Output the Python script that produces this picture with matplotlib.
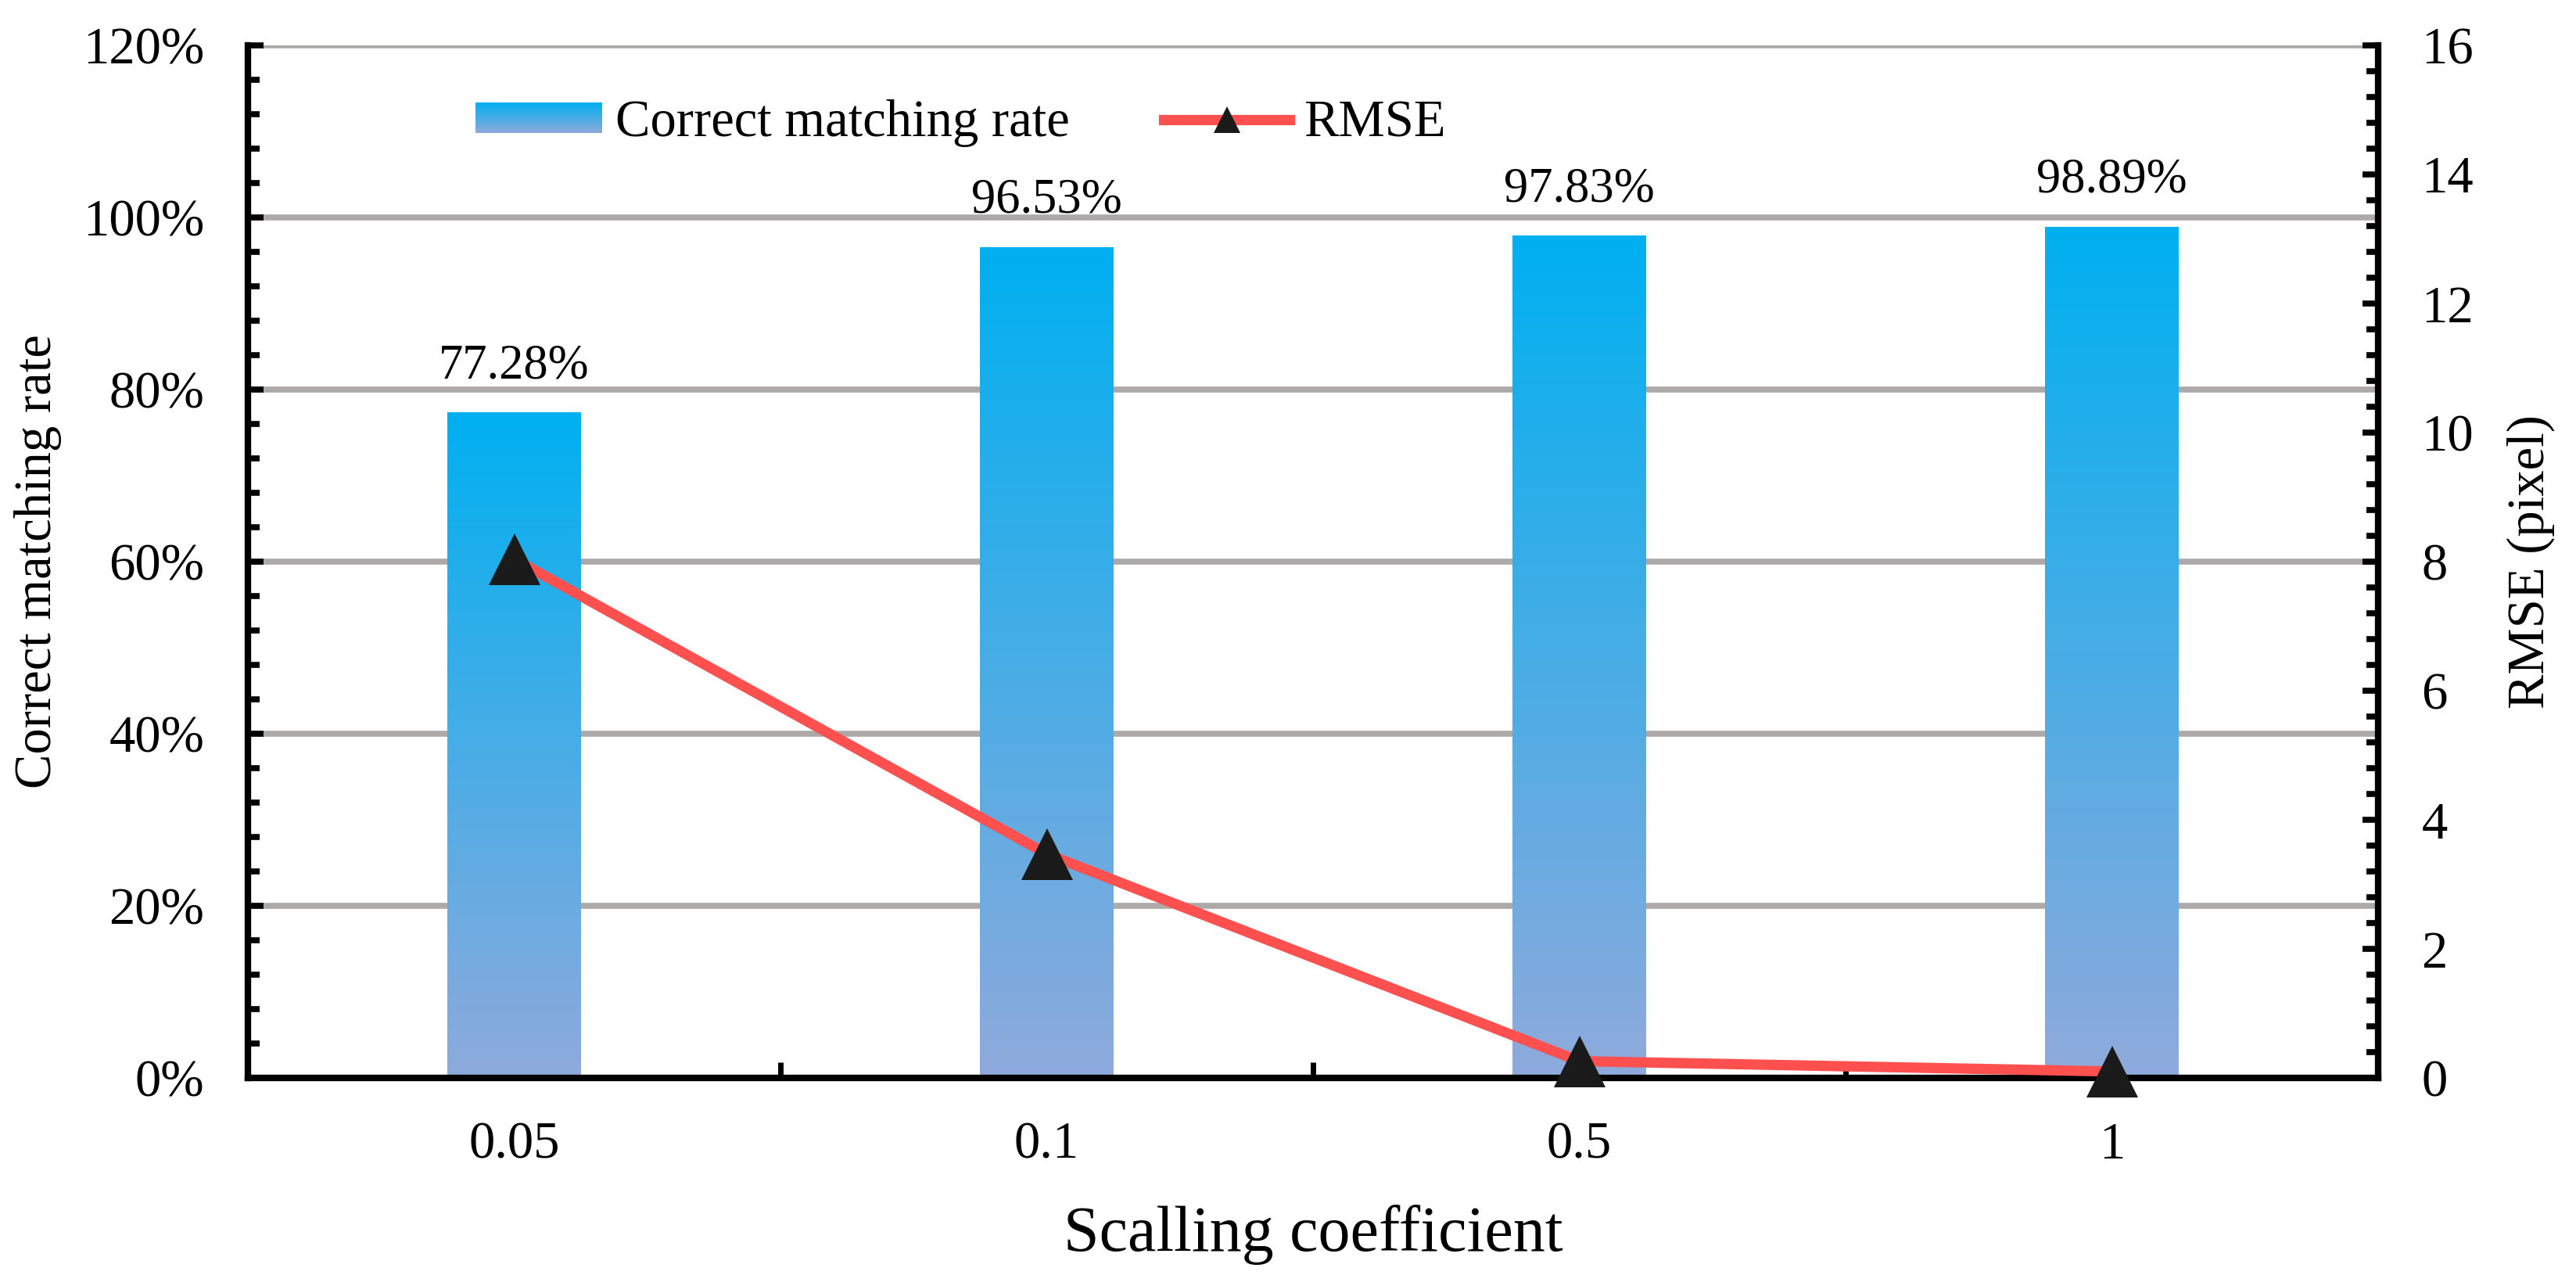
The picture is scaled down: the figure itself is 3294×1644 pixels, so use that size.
import numpy as np
import matplotlib
matplotlib.use("Agg")
import matplotlib.pyplot as plt
from matplotlib.colors import LinearSegmentedColormap
from matplotlib.ticker import PercentFormatter, MultipleLocator
from matplotlib.legend_handler import HandlerBase
from matplotlib.image import BboxImage
from matplotlib.transforms import Bbox, TransformedBbox
from matplotlib.patches import Rectangle
from matplotlib.lines import Line2D

plt.rcParams['font.family'] = ['Liberation Serif', 'DejaVu Serif']

# ---- data ----
categories = ["0.05", "0.1", "0.5", "1"]
matching_rate = [0.7728, 0.9653, 0.9783, 0.9889]
rmse = [8.04, 3.47, 0.26, 0.10]
rate_labels = ["77.28%", "96.53%", "97.83%", "98.89%"]
bar_name = "Correct matching rate"
line_name = "RMSE"
xlabel = "Scalling coefficient"
ylabel_left = "Correct matching rate"
ylabel_right = "RMSE (pixel)"

# ---- style ----
top_col = (0/255, 176/255, 240/255)
bot_col = (143/255, 170/255, 220/255)
cmap = LinearSegmentedColormap.from_list("grad", [top_col, bot_col])
red = "#FF5050"
mk = "#1A1A1A"
grid_col = "#ADA9A8"

W, H = 3294, 1644
fig = plt.figure(figsize=(W / 100, H / 100), dpi=100)
L, R, T, B = 317, 3041, 58, 1378
ax = fig.add_axes([L / W, 1 - B / H, (R - L) / W, (B - T) / H])

x = np.arange(len(categories))
bars = ax.bar(x, matching_rate, width=0.25, color="none", edgecolor="none", zorder=2)
grad = np.linspace(0, 1, 256).reshape(-1, 1)
for b in bars:
    x0, w, h = b.get_x(), b.get_width(), b.get_height()
    ax.imshow(grad, extent=[x0, x0 + w, 0, h], aspect="auto", cmap=cmap,
              origin="upper", zorder=2, interpolation="bilinear")

for xi, v, lab in zip(x, matching_rate, rate_labels):
    ax.annotate(lab, xy=(xi, v), xytext=(0, 32), textcoords="offset points",
                ha="center", va="baseline", fontsize=45, zorder=5)

ax.set_xlim(-0.5, len(categories) - 0.5)
ax.set_ylim(0, 1.2)
ax.yaxis.set_major_locator(MultipleLocator(0.2))
ax.yaxis.set_minor_locator(MultipleLocator(0.04))
ax.yaxis.set_major_formatter(PercentFormatter(xmax=1, decimals=0))
ax.set_xticks(x, labels=categories)
ax.set_xticks(x[:-1] + 0.5, minor=True)
ax.set_axisbelow(True)
ax.grid(axis="y", which="major", color=grid_col, lw=5.5)

ax.tick_params(axis="x", which="major", length=0, pad=40, labelsize=48)
ax.tick_params(axis="x", which="minor", direction="in", length=14.4, width=5.0, color="black")
ax.tick_params(axis="y", which="major", direction="in", length=14.4, width=5.5, pad=40, labelsize=48)
ax.tick_params(axis="y", which="minor", direction="in", length=10.8, width=5.5)

for s in ["top", "right"]:
    ax.spines[s].set_visible(False)
for s in ["left", "bottom"]:
    ax.spines[s].set_linewidth(6)

ax2 = ax.twinx()
ax2.plot(x, rmse, color=red, lw=9.5, marker="^", ms=48, mfc=mk, mec=mk, mew=0,
         clip_on=False, zorder=4)
ax2.set_ylim(0, 16)
ax2.yaxis.set_major_locator(MultipleLocator(2))
ax2.yaxis.set_minor_locator(MultipleLocator(0.4))
ax2.tick_params(axis="y", which="major", direction="in", length=14.4, width=5.5, pad=40, labelsize=48)
ax2.tick_params(axis="y", which="minor", direction="in", length=10.8, width=5.5)
for s in ["top", "left", "bottom"]:
    ax2.spines[s].set_visible(False)
ax2.spines["right"].set_linewidth(6)

ax.set_xlabel(xlabel, fontsize=59)
ax.xaxis.set_label_coords(0.5, (B - 1540) / (B - T))
ax.set_ylabel(ylabel_left, fontsize=48)
ax.yaxis.set_label_coords((79 - L) / (R - L), 0.5)
ax2.set_ylabel(ylabel_right, fontsize=48)
ax2.yaxis.set_label_coords((3205 - L) / (R - L), 0.5)


class GradientHandler(HandlerBase):
    def create_artists(self, legend, orig_handle, xdescent, ydescent, width, height, fontsize, trans):
        bb = Bbox.from_bounds(-xdescent, -ydescent, width, height)
        img = BboxImage(TransformedBbox(bb, trans), cmap=cmap, interpolation="bilinear", origin="upper")
        img.set_data(grad)
        img.set_clim(0, 1)
        return [img]


bar_proxy = Rectangle((0, 0), 1, 1)
line_proxy = Line2D([], [], color=red, lw=9.5, marker="^", ms=24, mfc=mk, mec=mk, mew=0)
fig.legend([bar_proxy, line_proxy], [bar_name, line_name], handler_map={bar_proxy: GradientHandler()},
           loc="center left", bbox_to_anchor=(608 / W, 1 - 158 / H), ncol=2, frameon=False,
           fontsize=48, borderpad=0, borderaxespad=0, handlelength=2.42, handleheight=0.51,
           handletextpad=0.27, columnspacing=1.8)

fig.savefig("out.png", dpi=100)
